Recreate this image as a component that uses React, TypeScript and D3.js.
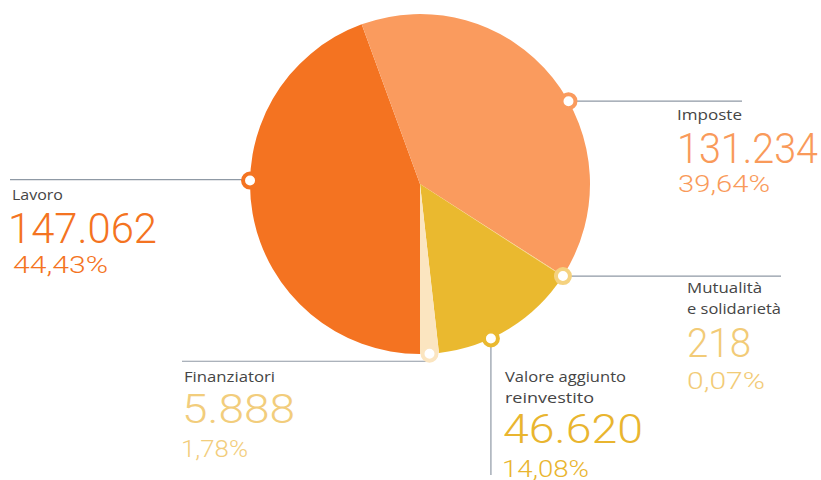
import React from "react";
import * as d3 from "d3";

// ---- data ----
const categories = ["Lavoro", "Imposte", "Mutualità e solidarietà", "Valore aggiunto reinvestito", "Finanziatori"];
const labelLines = [["Lavoro"], ["Imposte"], ["Mutualità", "e solidarietà"], ["Valore aggiunto", "reinvestito"], ["Finanziatori"]];
const values = [147062, 131234, 218, 46620, 5888];
const percents = [44.43, 39.64, 0.07, 14.08, 1.78];

// ---- styles ----
const sliceColors = ["#F47321", "#FA9B5E", "#F5D27F", "#EAB92F", "#FBE5C0"];
const markerColors = ["#F47321", "#FA9B5E", "#F5D27F", "#EAB92F", "#FBE5C0"];
const textColors = ["#F47321", "#F99A5A", "#F2CB77", "#E9B52F", "#F2CD7C"];
const markerFrac = [0.57, 0.567, 0.5, 0.64, 0.5];

type Layout = {
  lx: number; ly: number; lw: number[];
  vx: number; vy: number; vw: number; vs: number;
  px: number; py: number; pw: number;
  line: "left" | "right" | "down" | "leftLow"; end: number;
};
const layout: Layout[] = [
  { lx: 12, ly: 200, lw: [51], vx: 8, vy: 243, vw: 149, vs: 43, px: 13, py: 273, pw: 95, line: "left", end: 10 },
  { lx: 677, ly: 120, lw: [65], vx: 677, vy: 163, vw: 141, vs: 42, px: 678, py: 192, pw: 92, line: "right", end: 742 },
  { lx: 687, ly: 293, lw: [75, 94], vx: 687, vy: 357, vw: 64, vs: 40, px: 687, py: 389, pw: 78, line: "right", end: 781 },
  { lx: 505, ly: 382, lw: [121, 89], vx: 503, vy: 443, vw: 140, vs: 40, px: 502, py: 477, pw: 87, line: "down", end: 475 },
  { lx: 184, ly: 382, lw: [91], vx: 182, vy: 423, vw: 113, vs: 40, px: 181, py: 457, pw: 67, line: "leftLow", end: 182 },
];

const W = 821, H = 480;
const cx = 420, cy = 184, R = 170;

const it = d3.formatLocale({ decimal: ",", thousands: ".", grouping: [3], currency: ["€", ""] });
const fmtInt = it.format(",d");
const fmtPct = it.format(".2f");

export default function App() {
  const pie = d3.pie<number>().sort(null).value((d) => d).startAngle(Math.PI).endAngle(3 * Math.PI);
  const arcs = pie(values);
  const arcGen = d3.arc<d3.PieArcDatum<number>>().innerRadius(0).outerRadius(R);

  const markers = arcs.map((a, i) => {
    const ang = a.startAngle + (a.endAngle - a.startAngle) * markerFrac[i];
    return { x: cx + R * Math.sin(ang), y: cy - R * Math.cos(ang) };
  });

  const labelFont = "'Open Sans', 'DejaVu Sans', sans-serif";
  const numFont = "Roboto, 'Open Sans', sans-serif";

  return (
    <svg width={W} height={H} style={{ position: "absolute", left: 0, top: 0, background: "#fff" }}>
      <g transform={`translate(${cx},${cy})`}>
        {arcs.map((a, i) => (
          <path key={i} d={arcGen(a) || ""} fill={sliceColors[i]} />
        ))}
      </g>
      {layout.map((l, i) => {
        const m = markers[i];
        let line;
        if (l.line === "left") line = <line x1={l.end} x2={m.x} y1={m.y - 1} y2={m.y - 1} />;
        else if (l.line === "right") line = <line x1={m.x} x2={l.end} y1={m.y} y2={m.y} />;
        else if (l.line === "down") line = <line x1={m.x} x2={m.x} y1={m.y} y2={l.end} />;
        else line = <line x1={l.end} x2={m.x} y1={m.y + 7.5} y2={m.y + 7.5} />;
        return (
          <g key={i} stroke="#8F99A5" strokeWidth={1.2}>
            {line}
          </g>
        );
      })}
      {markers.map((m, i) => (
        <circle key={i} cx={m.x} cy={m.y} r={7} fill="#fff" stroke={markerColors[i]} strokeWidth={4} />
      ))}
      {layout.map((l, i) => (
        <g key={categories[i]}>
          {labelLines[i].map((t, j) => (
            <text key={j} x={l.lx} y={l.ly + j * 21} fontFamily={labelFont} fontSize={15} fill="#454545"
              textLength={l.lw[j]} lengthAdjust="spacingAndGlyphs">
              {t}
            </text>
          ))}
          <text x={l.vx} y={l.vy} fontFamily={numFont} fontWeight={300} fontSize={l.vs} fill={textColors[i]}
            textLength={l.vw} lengthAdjust="spacingAndGlyphs">
            {fmtInt(values[i])}
          </text>
          <text x={l.px} y={l.py} fontFamily={numFont} fontWeight={300} fontSize={24} fill={textColors[i]}
            textLength={l.pw} lengthAdjust="spacingAndGlyphs">
            {fmtPct(percents[i]) + "%"}
          </text>
        </g>
      ))}
    </svg>
  );
}
